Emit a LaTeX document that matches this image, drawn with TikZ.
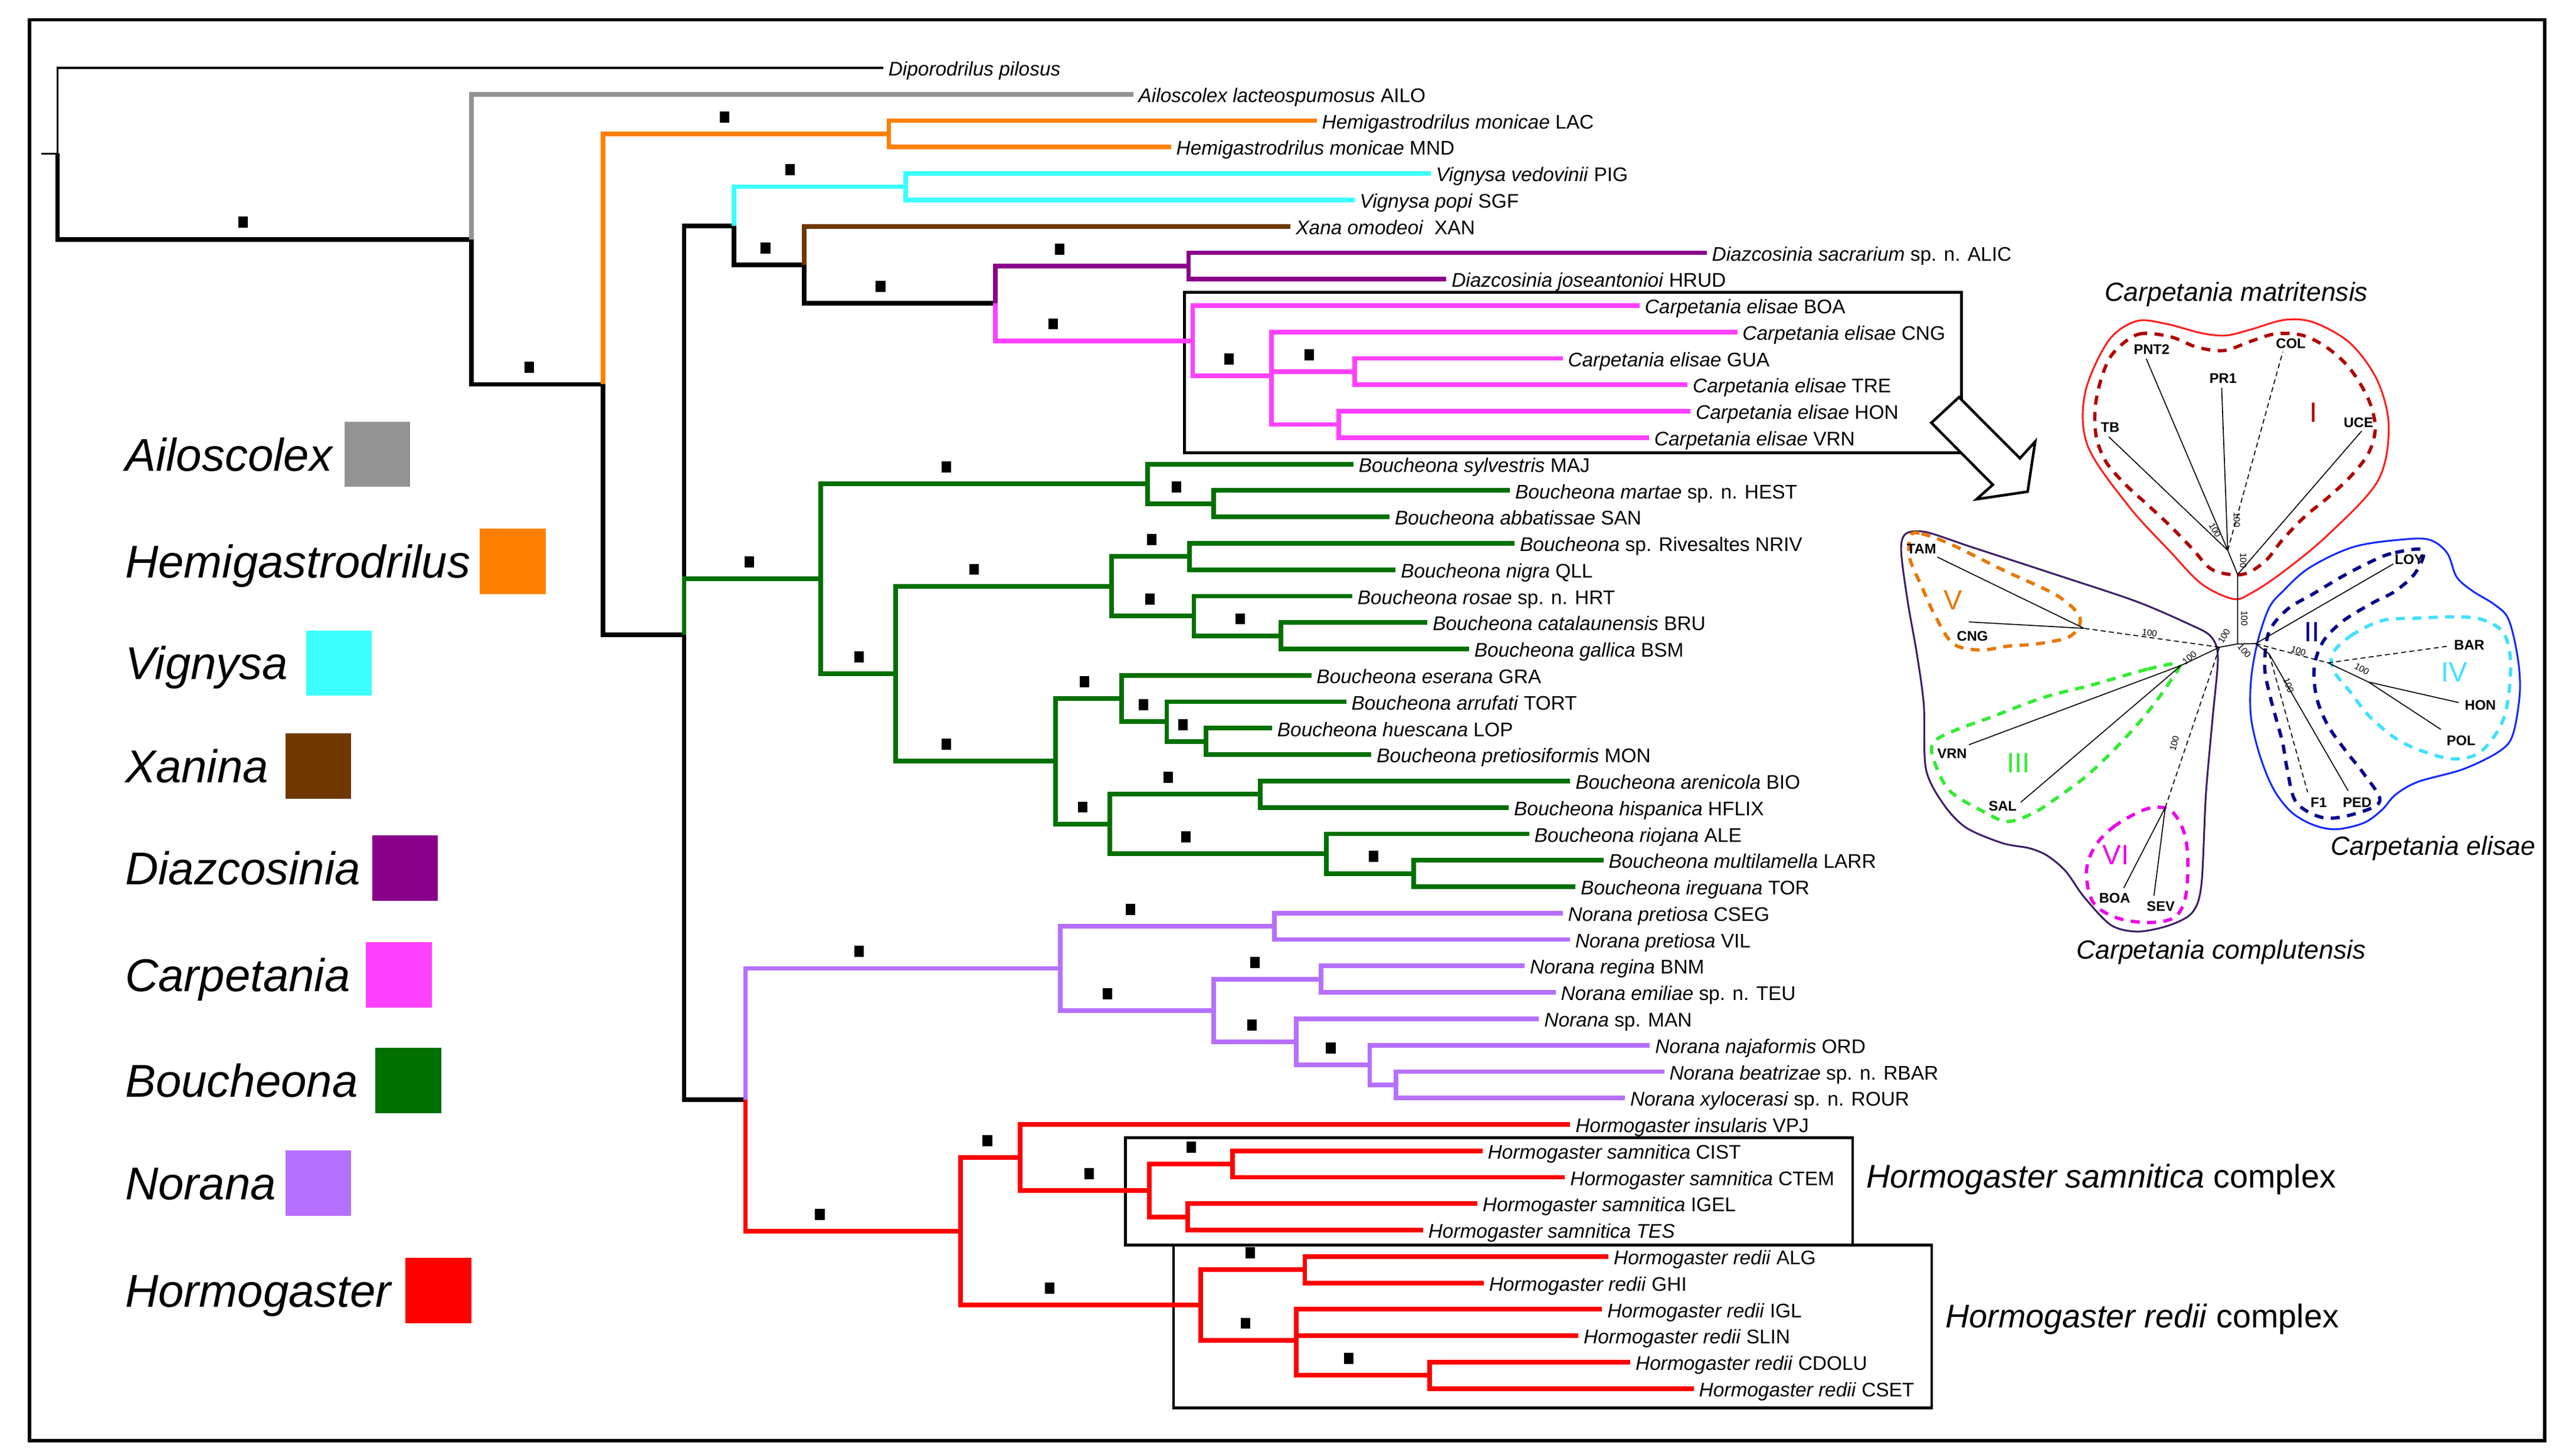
\documentclass[tikz,border=0pt]{standalone}
\usepackage{fontspec}
\setmainfont{Liberation Sans}
\definecolor{cGray}{RGB}{147,147,147}
\definecolor{cOrange}{RGB}{255,128,0}
\definecolor{cCyan}{RGB}{59,255,255}
\definecolor{cBrown}{RGB}{112,56,0}
\definecolor{cPurple}{RGB}{139,0,139}
\definecolor{cPink}{RGB}{255,64,255}
\definecolor{cGreen}{RGB}{0,112,0}
\definecolor{cLilac}{RGB}{181,112,255}
\definecolor{cRed}{RGB}{255,0,0}
\definecolor{uRed}{RGB}{255,30,30}
\definecolor{uDRed}{RGB}{175,0,0}
\definecolor{uBlue}{RGB}{20,40,255}
\definecolor{uNavy}{RGB}{0,0,140}
\definecolor{uCyan}{RGB}{64,224,255}
\definecolor{uIndigo}{RGB}{60,30,100}
\definecolor{uOrange}{RGB}{230,120,0}
\definecolor{uGreen}{RGB}{50,235,50}
\definecolor{uMag}{RGB}{235,0,235}
\begin{document}
\begin{tikzpicture}[x=1pt,y=-1pt,
  br/.style={line width=2.8pt},
  thinbr/.style={line width=1.3pt},
  lf/.style={anchor=west, inner xsep=3pt, inner ysep=0pt, text height=9.8pt, text depth=0pt, font=\fontsize{12}{12}\selectfont},
  bs/.style={fill=black, inner sep=0pt, minimum width=5.8pt, minimum height=6.8pt, yshift=10.3pt},
  lgt/.style={anchor=base west, inner sep=0pt, font=\fontsize{28}{30}\selectfont\itshape},
  lgb/.style={inner sep=0pt, minimum width=40pt, minimum height=39.7pt},
  cplx/.style={anchor=west, inner sep=0pt, font=\fontsize{20}{22}\selectfont},
  ttl/.style={inner sep=0pt, font=\fontsize{16}{18}\selectfont\itshape},
  ul/.style={inner sep=0pt, font=\fontsize{8.5}{9}\selectfont\bfseries},
  rom/.style={inner sep=0pt, font=\fontsize{17}{18}\selectfont},
  hund/.style={inner sep=0pt, font=\fontsize{5.5}{6}\selectfont},
  ubr/.style={line width=0.6pt},
  udash/.style={line width=2pt, dash pattern=on 5.5pt off 4.5pt},
  uout/.style={line width=1.1pt}
]
\useasboundingbox (0,0) rectangle (1568,886);
\fill[white] (0,0) rectangle (1568,886);
\draw[line width=2pt] (18,12) rectangle (1549,877);

% clade boxes
\draw[line width=1.8pt] (720.8,178) rectangle (1193.8,275.8);
\draw[line width=1.6pt] (685.1,692.6) rectangle (1127.7,758);
\draw[line width=1.6pt] (714.3,758) rectangle (1175.8,857);

\begin{scope}[yshift=-41.3pt, y=-16.08pt]
% internal nodes
\coordinate (R0) at (25,3.2455);
\coordinate (R) at (35,3.2455);
\coordinate (G) at (287,6.491);
\coordinate (A) at (367,11.982);
\coordinate (HM) at (541,2.5);
\coordinate (P) at (416.4,21.464);
\coordinate (VX) at (446.7,5.979);
\coordinate (VG) at (551.4,4.5);
\coordinate (XN) at (489.6,7.458);
\coordinate (DC) at (606,8.917);
\coordinate (DZ) at (723.5,7.5);
\coordinate (CP) at (726,10.333);
\coordinate (CP2) at (774,11.667);
\coordinate (GT) at (824.7,11.5);
\coordinate (HV) at (815,13.5);
\coordinate (B0) at (499.5,19.344);
\coordinate (B1) at (698.5,15.75);
\coordinate (B1a) at (738.8,16.5);
\coordinate (B2) at (545.3,22.9375);
\coordinate (B3) at (676.5,19.625);
\coordinate (B3a) at (724.1,18.5);
\coordinate (B3b) at (726.7,20.75);
\coordinate (B3c) at (779.8,21.5);
\coordinate (B4) at (642.4,26.25);
\coordinate (B5) at (682.7,23.875);
\coordinate (B5a) at (710.2,24.75);
\coordinate (B5b) at (734,25.5);
\coordinate (B6) at (675.4,28.625);
\coordinate (B6a) at (767,27.5);
\coordinate (B6b) at (807.3,29.75);
\coordinate (B6c) at (860.5,30.5);
\coordinate (NH) at (453.8,39.068);
\coordinate (N0) at (645.3,34.094);
\coordinate (N1) at (775.8,32.5);
\coordinate (N2) at (738.8,35.6875);
\coordinate (N3) at (804.1,34.5);
\coordinate (N4) at (788.9,36.875);
\coordinate (N5) at (833.7,37.75);
\coordinate (N6) at (849.8,38.5);
\coordinate (H0) at (584.7,44.042);
\coordinate (H1) at (620.9,41.25);
\coordinate (H2) at (699.5,42.5);
\coordinate (H3) at (750.2,41.5);
\coordinate (H4) at (722.9,43.5);
\coordinate (H5) at (730.7,46.833);
\coordinate (H6) at (794.2,45.5);
\coordinate (H7) at (789.1,48.167);
\coordinate (H8) at (870.1,49.5);

% leaves
\node[lf] (lDIPO) at (537.6,0) {\textit{Diporodrilus pilosus}};
\node[lf] (lAILO) at (689.8,1) {\textit{Ailoscolex lacteospumosus} AILO};
\node[lf] (lLAC) at (801.5,2) {\textit{Hemigastrodrilus monicae} LAC};
\node[lf] (lMND) at (712.8,3) {\textit{Hemigastrodrilus monicae} MND};
\node[lf] (lPIG) at (870.9,4) {\textit{Vignysa vedovinii} PIG};
\node[lf] (lSGF) at (824.5,5) {\textit{Vignysa popi} SGF};
\node[lf] (lXAN) at (785.6,6) {\textit{Xana omodeoi}\ \ XAN};
\node[lf] (lALIC) at (1038.9,7) {\textit{Diazcosinia sacrarium} sp. n. ALIC};
\node[lf] (lHRUD) at (880.4,8) {\textit{Diazcosinia joseantonioi} HRUD};
\node[lf] (lBOA) at (998,9) {\textit{Carpetania elisae} BOA};
\node[lf] (lCNG) at (1057.5,10) {\textit{Carpetania elisae} CNG};
\node[lf] (lGUA) at (951.2,11) {\textit{Carpetania elisae} GUA};
\node[lf] (lTRE) at (1027.2,12) {\textit{Carpetania elisae} TRE};
\node[lf] (lHON) at (1029,13) {\textit{Carpetania elisae} HON};
\node[lf] (lVRN) at (1003.8,14) {\textit{Carpetania elisae} VRN};
\node[lf] (lMAJ) at (823.8,15) {\textit{Boucheona sylvestris} MAJ};
\node[lf] (lHEST) at (919.1,16) {\textit{Boucheona martae} sp. n. HEST};
\node[lf] (lSAN) at (845.8,17) {\textit{Boucheona abbatissae} SAN};
\node[lf] (lNRIV) at (922,18) {\textit{Boucheona} sp. Rivesaltes NRIV};
\node[lf] (lQLL) at (849.5,19) {\textit{Boucheona nigra} QLL};
\node[lf] (lHRT) at (823.1,20) {\textit{Boucheona rosae} sp. n. HRT};
\node[lf] (lBRU) at (868.9,21) {\textit{Boucheona catalaunensis} BRU};
\node[lf] (lBSM) at (894.2,22) {\textit{Boucheona gallica} BSM};
\node[lf] (lGRA) at (798.2,23) {\textit{Boucheona eserana} GRA};
\node[lf] (lTORT) at (819.4,24) {\textit{Boucheona arrufati} TORT};
\node[lf] (lLOP) at (774.3,25) {\textit{Boucheona huescana} LOP};
\node[lf] (lMON) at (834.8,26) {\textit{Boucheona pretiosiformis} MON};
\node[lf] (lBIO) at (955.8,27) {\textit{Boucheona arenicola} BIO};
\node[lf] (lHFLIX) at (918.4,28) {\textit{Boucheona hispanica} HFLIX};
\node[lf] (lALE) at (930.8,29) {\textit{Boucheona riojana} ALE};
\node[lf] (lLARR) at (976,30) {\textit{Boucheona multilamella} LARR};
\node[lf] (lTOR) at (959,31) {\textit{Boucheona ireguana} TOR};
\node[lf] (lCSEG) at (951.2,32) {\textit{Norana pretiosa} CSEG};
\node[lf] (lVIL) at (955.6,33) {\textit{Norana pretiosa} VIL};
\node[lf] (lBNM) at (928.1,34) {\textit{Norana regina} BNM};
\node[lf] (lTEU) at (946.9,35) {\textit{Norana emiliae} sp. n. TEU};
\node[lf] (lMAN) at (936.8,36) {\textit{Norana} sp. MAN};
\node[lf] (lORD) at (1004.3,37) {\textit{Norana najaformis} ORD};
\node[lf] (lRBAR) at (1013,38) {\textit{Norana beatrizae} sp. n. RBAR};
\node[lf] (lROUR) at (989.1,39) {\textit{Norana xylocerasi} sp. n. ROUR};
\node[lf] (lVPJ) at (955.8,40) {\textit{Hormogaster insularis} VPJ};
\node[lf] (lCIST) at (902.4,41) {\textit{Hormogaster samnitica} CIST};
\node[lf] (lCTEM) at (952.6,42) {\textit{Hormogaster samnitica} CTEM};
\node[lf] (lIGEL) at (899.3,43) {\textit{Hormogaster samnitica} IGEL};
\node[lf] (lTES) at (866.2,44) {\textit{Hormogaster samnitica TES}};
\node[lf] (lALG) at (979.1,45) {\textit{Hormogaster redii} ALG};
\node[lf] (lGHI) at (903.2,46) {\textit{Hormogaster redii} GHI};
\node[lf] (lIGL) at (975.2,47) {\textit{Hormogaster redii} IGL};
\node[lf] (lSLIN) at (960.8,48) {\textit{Hormogaster redii} SLIN};
\node[lf] (lCDOLU) at (992.4,49) {\textit{Hormogaster redii} CDOLU};
\node[lf] (lCSET) at (1031,50) {\textit{Hormogaster redii} CSET};

% branches
\draw[thinbr] (R0) -- (R) (R) |- (lDIPO.west);
\draw[br] (R) |- (G);
\draw[br,cGray] (G) |- (lAILO.west);
\draw[br] (G) |- (A);
\draw[br,cOrange] (A) |- (HM) (HM) |- (lLAC.west) (HM) |- (lMND.west);
\draw[br] (A) |- (P);
\draw[br] (P) |- (VX);
\draw[br] (P) |- (NH);
\draw[br,cGreen] (P) |- (B0);
\draw[br,cCyan] (VX) |- (VG) (VG) |- (lPIG.west) (VG) |- (lSGF.west);
\draw[br] (VX) |- (XN);
\draw[br,cBrown] (XN) |- (lXAN.west);
\draw[br] (XN) |- (DC);
\draw[br,cPurple] (DC) |- (DZ) (DZ) |- (lALIC.west) (DZ) |- (lHRUD.west);
\draw[br,cPink] (DC) |- (CP) (CP) |- (lBOA.west) (CP) |- (CP2)
  (CP2) |- (lCNG.west) (CP2) |- (GT) (GT) |- (lGUA.west) (GT) |- (lTRE.west)
  (CP2) |- (HV) (HV) |- (lHON.west) (HV) |- (lVRN.west);
\draw[br,cGreen] (B0) |- (B1) (B1) |- (lMAJ.west) (B1) |- (B1a) (B1a) |- (lHEST.west) (B1a) |- (lSAN.west)
  (B0) |- (B2) (B2) |- (B3) (B3) |- (B3a) (B3a) |- (lNRIV.west) (B3a) |- (lQLL.west)
  (B3) |- (B3b) (B3b) |- (lHRT.west) (B3b) |- (B3c) (B3c) |- (lBRU.west) (B3c) |- (lBSM.west)
  (B2) |- (B4) (B4) |- (B5) (B5) |- (lGRA.west) (B5) |- (B5a) (B5a) |- (lTORT.west) (B5a) |- (B5b)
  (B5b) |- (lLOP.west) (B5b) |- (lMON.west)
  (B4) |- (B6) (B6) |- (B6a) (B6a) |- (lBIO.west) (B6a) |- (lHFLIX.west) (B6) |- (B6b)
  (B6b) |- (lALE.west) (B6b) |- (B6c) (B6c) |- (lLARR.west) (B6c) |- (lTOR.west);
\draw[br,cLilac] (NH) |- (N0) (N0) |- (N1) (N1) |- (lCSEG.west) (N1) |- (lVIL.west)
  (N0) |- (N2) (N2) |- (N3) (N3) |- (lBNM.west) (N3) |- (lTEU.west)
  (N2) |- (N4) (N4) |- (lMAN.west) (N4) |- (N5) (N5) |- (lORD.west) (N5) |- (N6)
  (N6) |- (lRBAR.west) (N6) |- (lROUR.west);
\draw[br,cRed] (NH) |- (H0) (H0) |- (H1) (H1) |- (lVPJ.west) (H1) |- (H2)
  (H2) |- (H3) (H3) |- (lCIST.west) (H3) |- (lCTEM.west) (H2) |- (H4) (H4) |- (lIGEL.west) (H4) |- (lTES.west)
  (H0) |- (H5) (H5) |- (H6) (H6) |- (lALG.west) (H6) |- (lGHI.west)
  (H5) |- (H7) (H7) |- (lIGL.west) (H7) |- (lSLIN.west) (H7) |- (H8) (H8) |- (lCDOLU.west) (H8) |- (lCSET.west);

% support markers
\node[bs] (m1) at (148,6.491) {};
\node[bs] (m2) at (322,11.982) {};
\node[bs] (m3) at (441,2.5) {};
\node[bs] (m4) at (481,4.5) {};
\node[bs] (m5) at (466,7.458) {};
\node[bs] (m6) at (536,8.917) {};
\node[bs] (m7) at (645,7.5) {};
\node[bs] (m8) at (641,10.333) {};
\node[bs] (m9) at (748,11.667) {};
\node[bs] (m10) at (797,11.5) {};
\node[bs] (m11) at (576,15.75) {};
\node[bs] (m12) at (716,16.5) {};
\node[bs] (m13) at (456,19.344) {};
\node[bs] (m14) at (593,19.625) {};
\node[bs] (m15) at (701,18.5) {};
\node[bs] (m16) at (700,20.75) {};
\node[bs] (m17) at (755,21.5) {};
\node[bs] (m18) at (523,22.9375) {};
\node[bs] (m19) at (660,23.875) {};
\node[bs] (m20) at (696,24.75) {};
\node[bs] (m21) at (720,25.5) {};
\node[bs] (m22) at (576,26.25) {};
\node[bs] (m23) at (711,27.5) {};
\node[bs] (m24) at (659,28.625) {};
\node[bs] (m25) at (722,29.75) {};
\node[bs] (m26) at (836,30.5) {};
\node[bs] (m27) at (688,32.5) {};
\node[bs] (m28) at (523,34.094) {};
\node[bs] (m29) at (674,35.6875) {};
\node[bs] (m30) at (764,34.5) {};
\node[bs] (m31) at (762,36.875) {};
\node[bs] (m32) at (810,37.75) {};
\node[bs] (m33) at (601,41.25) {};
\node[bs] (m34) at (663,42.5) {};
\node[bs] (m35) at (725,41.5) {};
\node[bs] (m36) at (499,44.042) {};
\node[bs] (m37) at (639,46.833) {};
\node[bs] (m38) at (761,45.5) {};
\node[bs] (m39) at (758,48.167) {};
\node[bs] (m40) at (821,49.5) {};
\end{scope}

% complex labels
\node[cplx] (cxS) at (1136,718) {\textit{Hormogaster samnitica} complex};
\node[cplx] (cxR) at (1184,803) {\textit{Hormogaster redii} complex};

% legend
\node[lgt] (tAil) at (76,286.6) {Ailoscolex};
\node[lgb,fill=cGray] (bAil) at (229.65,276.6) {};
\node[lgt] (tHem) at (76,351.7) {Hemigastrodrilus};
\node[lgb,fill=cOrange] (bHem) at (312.05,341.7) {};
\node[lgt] (tVig) at (76,413.6) {Vignysa};
\node[lgb,fill=cCyan] (bVig) at (206.25,403.6) {};
\node[lgt] (tXan) at (76,476.3) {Xanina};
\node[lgb,fill=cBrown] (bXan) at (193.65,466.3) {};
\node[lgt] (tDia) at (76,538.4) {Diazcosinia};
\node[lgb,fill=cPurple] (bDia) at (246.55,528.4) {};
\node[lgt] (tCar) at (76,603.4) {Carpetania};
\node[lgb,fill=cPink] (bCar) at (242.75,593.4) {};
\node[lgt] (tBou) at (76,667.7) {Boucheona};
\node[lgb,fill=cGreen] (bBou) at (248.55,657.7) {};
\node[lgt] (tNor) at (76,730.2) {Norana};
\node[lgb,fill=cLilac] (bNor) at (193.65,720.2) {};
\node[lgt] (tHor) at (76,795.6) {Hormogaster};
\node[lgb,fill=cRed] (bHor) at (266.85,785.6) {};

% block arrow
\draw[line width=1.6pt, fill=white, line join=miter]
  (1192.4,241.8) -- (1229.5,279.0) -- (1238.8,268.8) -- (1234.2,299.3) -- (1203.1,303.9) -- (1213.0,295.1) -- (1175.6,257.4) -- cycle;

% ---------- unrooted network ----------
\draw[uout,uRed] plot[smooth cycle, tension=0.55] coordinates {
 (1300,195.6) (1318,197) (1340,202.8) (1355,204.2) (1370,200.6) (1390.8,194.7) (1408.7,196.4)
 (1430.7,209.1) (1447.2,231.9) (1454,260.3) (1447.2,293) (1417,325.6) (1389.5,348.3)
 (1370.2,361.1) (1359.2,364.6) (1340,355.4) (1320.7,335.5) (1296,308.5) (1271,272) (1269,240) (1283,208)};
\draw[uout,uBlue] plot[smooth cycle, tension=0.55] coordinates {
 (1405.9,345.5) (1433.4,332.7) (1466.4,328.1) (1480.2,329.1) (1489.8,337) (1495.3,351.2)
 (1504.9,359.7) (1518.6,368.2) (1526.9,377) (1532.4,399.6) (1533.8,421.4) (1529.6,447)
 (1521.4,457.3) (1499.4,468.2) (1471.9,475.9) (1458.2,483.7) (1449.9,493) (1438.9,500.9)
 (1422.4,504.8) (1408.7,502.4) (1395,494.6) (1384,480.6) (1375.7,460.4) (1370.2,437)
 (1370.2,413.7) (1374.3,390.3) (1381.2,370) (1389.5,360)};
\draw[uout,uIndigo] plot[smooth cycle, tension=0.5] coordinates {
 (1160,325) (1172.3,323.9) (1200,333) (1252,350) (1300,366) (1331.7,379.6) (1345.5,387.2)
 (1350,400) (1346.8,437) (1342.7,483.7) (1340,538.3) (1334.5,555.4) (1320.7,563.2)
 (1301.5,567.1) (1285,563.2) (1268.5,546) (1257.5,530.5) (1246.5,521.1) (1235.5,516.4)
 (1219,513.3) (1197,504) (1183.3,490) (1172.3,468.2) (1171,429.2) (1166.8,398.1)
 (1161.3,366.9) (1157.2,335.5)};
\draw[udash,uDRed] plot[smooth cycle, tension=0.55] coordinates {
 (1286.4,214.8) (1301.5,203.5) (1320.7,204.9) (1337.2,211.3) (1353.7,213.4) (1370.2,207.7)
 (1385.3,203.2) (1401.8,204.2) (1417,212) (1430.7,224.8) (1441.7,243.2) (1445.8,260.3)
 (1441.7,275.9) (1430.7,290.1) (1417,302.9) (1403.2,314.2) (1389.5,328.4) (1378.5,341.9)
 (1364.7,349.7) (1346.8,346.9) (1334.5,334.1) (1320.7,319.9) (1307,307.1) (1294.6,295.8)
 (1282.2,281.6) (1276,265.9) (1275.4,247.5) (1279.5,229)};
\draw[udash,uNavy] plot[smooth cycle, tension=0.55] coordinates {
 (1474.7,334.8) (1455.4,337) (1441.7,342.6) (1425.2,351.2) (1408.7,361.1) (1392.2,371)
 (1381,385) (1378.5,405.9) (1381.2,421.4) (1385.3,437) (1389.5,452.6) (1392.2,468.2)
 (1397.7,488.4) (1414.2,497.8) (1433.4,495.4) (1448.6,487.6) (1439,471.3) (1428,457.3)
 (1417,441.7) (1410.1,424.6) (1408.7,405.9) (1414.2,390.3) (1426.5,377.8) (1444.4,366.9)
 (1458.2,359.7) (1470.5,348.3)};
\draw[udash,uCyan] plot[smooth cycle, tension=0.55] coordinates {
 (1419.7,398.1) (1430.7,387.2) (1449.9,377.8) (1471.9,376.3) (1493.9,375.5) (1510.4,377)
 (1524.1,385.6) (1528.2,405.9) (1524.1,437) (1510.4,457.3) (1493.9,462) (1474.7,457.3)
 (1458.2,449.5) (1441.7,435.5) (1430.7,421.4) (1421,409)};
\draw[udash,uOrange] plot[smooth cycle, tension=0.55] coordinates {
 (1163,326) (1169.6,324.9) (1187.4,331.3) (1219,346.9) (1252,362.5) (1266,376)
 (1260.3,387.2) (1241,391.8) (1221.8,393.4) (1205.3,395.7) (1188.8,391.8) (1177.8,374.7)
 (1169.6,356.8) (1162.5,340)};
\draw[udash,uGreen] plot[smooth cycle, tension=0.55] coordinates {
 (1326.2,404.3) (1307,407.4) (1274,416.8) (1243.8,424.6) (1210.8,437) (1191.5,444)
 (1177.8,451) (1176.4,460.4) (1186,480.6) (1205.3,493) (1221.8,500) (1238.3,494.6)
 (1254.8,483.7) (1271.3,471.3) (1290.5,452.6) (1307,433.9) (1320.7,415.2)};
\draw[udash,uMag] plot[smooth cycle, tension=0.55] coordinates {
 (1307,492.3) (1287.8,502.4) (1275.4,514.9) (1270,530.5) (1274,549.2) (1287.8,558.5)
 (1307,561.6) (1323.5,558.5) (1330.3,546) (1331.7,522.7) (1329,505.5) (1320.7,493)};

% network nodes
\coordinate (uHc) at (1362,392);
\coordinate (uMs) at (1362,349.7);
\coordinate (uM) at (1356,335);
\coordinate (uTBe) at (1283.6,265.9);
\coordinate (uPNe) at (1306.4,218.4);
\coordinate (uPRe) at (1352.3,236.1);
\coordinate (uCOe) at (1389.5,214.1);
\coordinate (uUCe) at (1437.5,262.4);
\coordinate (uHl) at (1351,394);
\coordinate (uV0) at (1268.5,382.5);
\coordinate (uTAe) at (1179.2,339.1);
\coordinate (uCNe) at (1198.4,378.6);
\coordinate (uIII) at (1327.6,405.1);
\coordinate (uVRe) at (1198.4,453.4);
\coordinate (uSAe) at (1230,488.4);
\coordinate (uVI) at (1318,491.5);
\coordinate (uBOe) at (1292.7,540.6);
\coordinate (uSEe) at (1311.1,545.3);
\coordinate (uHr) at (1373,391.8);
\coordinate (uLOe) at (1456.8,343.3);
\coordinate (uE1) at (1417,403.5);
\coordinate (uBAe) at (1489.8,393.4);
\coordinate (uE2) at (1441.7,415.2);
\coordinate (uHOe) at (1496.6,427.7);
\coordinate (uPOe) at (1485.7,444);
\coordinate (uE3) at (1381.2,398.1);
\coordinate (uF1e) at (1404.6,482.2);
\coordinate (uPEe) at (1429.3,481.4);

\draw[ubr] (uHc) -- (uMs) -- (uM) (uM) -- (uTBe) (uM) -- (uPNe) (uM) -- (uPRe) (uMs) -- (uUCe);
\draw[ubr,densely dashed] (uM) -- (uCOe);
\draw[ubr] (uHc) -- (uHl) (uHc) -- (uHr);
\draw[ubr,densely dashed] (uHl) -- (uV0);
\draw[ubr] (uV0) -- (uTAe) (uV0) -- (uCNe);
\draw[ubr] (uHl) -- (uIII) (uIII) -- (uVRe) (uIII) -- (uSAe);
\draw[ubr,densely dashed] (uHl) -- (uVI);
\draw[ubr] (uVI) -- (uBOe) (uVI) -- (uSEe);
\draw[ubr] (uHr) -- (uLOe);
\draw[ubr,densely dashed] (uHr) -- (uE1) (uE1) -- (uBAe);
\draw[ubr] (uE1) -- (uE2) (uE2) -- (uHOe) (uE2) -- (uPOe);
\draw[ubr] (uHr) -- (uE3) (uE3) -- (uPEe);
\draw[ubr,densely dashed] (uE3) -- (uF1e);

% network labels
\node[ul] (uPNT2) at (1309.7,212.7) {PNT2};
\node[ul] (uCOL) at (1394.4,209.1) {COL};
\node[ul] (uPR1) at (1353.2,230.4) {PR1};
\node[ul] (uTB) at (1284.4,260) {TB};
\node[ul] (uUCE) at (1435.6,257.4) {UCE};
\node[ul] (uTAM) at (1169.6,334.1) {TAM};
\node[ul] (uCNG) at (1200.6,387.2) {CNG};
\node[ul] (uVRN) at (1188.2,458.8) {VRN};
\node[ul] (uSAL) at (1219,490.7) {SAL};
\node[ul] (uBOA) at (1287.2,546.8) {BOA};
\node[ul] (uSEV) at (1315.2,551.9) {SEV};
\node[ul] (uLOY) at (1466.4,340.5) {LOY};
\node[ul] (uBAR) at (1503,392.6) {BAR};
\node[ul] (uHON) at (1509.8,429.2) {HON};
\node[ul] (uPOL) at (1498,451) {POL};
\node[ul] (uF1) at (1411.4,488.4) {F1};
\node[ul] (uPED) at (1434.8,488.4) {PED};

\node[rom,uDRed] (rI) at (1408.1,251) {I};
\node[rom,uNavy] (rII) at (1407.3,384.8) {II};
\node[rom,uGreen] (rIII) at (1228.7,464.3) {III};
\node[rom,uCyan] (rIV) at (1493.9,409) {IV};
\node[rom,uOrange] (rV) at (1188.8,365.4) {V};
\node[rom,uMag] (rVI) at (1287.8,520.3) {VI};

\node[hund,rotate=-60] (k1) at (1348.2,322.7) {100};
\node[hund,rotate=-90] (k2) at (1361.5,316.4) {100};
\node[hund,rotate=-90] (k3) at (1365.5,341.2) {100};
\node[hund,rotate=-90] (k4) at (1366.1,376.3) {100};
\node[hund,rotate=60] (k5) at (1353.7,387.2) {100};
\node[hund,rotate=-50] (k6) at (1366.1,396.2) {100};
\node[hund,rotate=-8] (k7) at (1308.4,385.4) {100};
\node[hund,rotate=40] (k8) at (1332.7,400.4) {100};
\node[hund,rotate=75] (k9) at (1323.5,452.6) {100};
\node[hund,rotate=-20] (k10) at (1399,396.3) {100};
\node[hund,rotate=-30] (k11) at (1437.6,407.2) {100};
\node[hund,rotate=-70] (k12) at (1393,417.2) {100};

\node[ttl] (tMat) at (1361.3,179.3) {Carpetania matritensis};
\node[ttl] (tEli) at (1481.1,516.4) {Carpetania elisae};
\node[ttl] (tCom) at (1352,579.5) {Carpetania complutensis};
\end{tikzpicture}
\end{document}
